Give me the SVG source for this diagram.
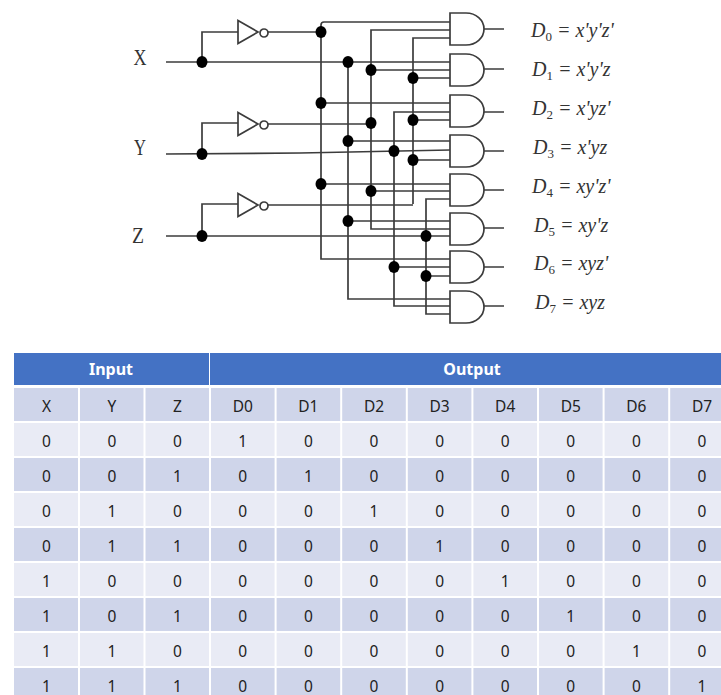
<svg xmlns="http://www.w3.org/2000/svg" width="721" height="695" viewBox="0 0 721 695">
<defs>
<style>
.w{fill:none;stroke:#3c3c3c;stroke-width:1.7}
.g{fill:#fff;stroke:#3c3c3c;stroke-width:1.7}
.d{fill:#000}
.lab{font-family:"Liberation Serif",serif;font-size:24px;fill:#333;text-anchor:middle}
.eq{font-family:"Liberation Serif",serif;font-style:italic;font-size:20px;fill:#333}
.eq tspan.s{font-size:13px;font-style:normal}
.hd{font-family:"Noto Sans",sans-serif;font-weight:700;font-size:16px;fill:#fff;text-anchor:middle}
.t{font-family:"Noto Sans",sans-serif;font-size:15.500px;fill:#222;text-anchor:middle}
.a{fill:#CFD5EA}.b{fill:#E9EBF5}.h{fill:#4472C4}
.v{stroke:#fff;stroke-width:2}
</style>
<path id="and" class="g" d="M0 0H16C26 0 34 7 34 16S26 32 16 32H0Z"/>
<ellipse id="dot" class="d" rx="5.500" ry="6"/>
<g id="inv"><path class="g" d="M0 -11.500L20 0L0 11.500Z"/><circle class="g" cx="26" cy="1" r="4"/></g>
</defs>
<rect width="721" height="695" fill="#fff"/>
<g id="connectors">
<path class="w" d="M166 62H450M166 154L300 153L450 150M166 236H450"/>
<path class="w" d="M202 62V32H238M202 154V123H238M202 236V204H238"/>
<path class="w" d="M268 32H321M268 124H371M268 205H413"/>
<path class="w" d="M450 22H324Q321 22 321 25V259H450"/>
<path class="w" d="M348 62V299H450"/>
<path class="w" d="M450 30H371V229H450"/>
<path class="w" d="M450 112H394V306H450"/>
<path class="w" d="M450 38H413V204"/>
<path class="w" d="M450 199H426V314H450"/>
<path class="w" d="M321 103H450M348 141H450M321 184H450M348 221H450"/>
<path class="w" d="M371 70H450M413 78H450M413 120H450M413 160H450M371 191H450M394 267H450M426 276H450"/>
<path class="w" d="M484 29H504M484 69H504M484 112H504M484 151H504M484 190H504M484 228H504M484 267H504M484 306H504"/>
</g>
<g id="junctions">
<use href="#dot" x="202" y="62"/><use href="#dot" x="202" y="154"/><use href="#dot" x="202" y="236"/>
<use href="#dot" x="321" y="32"/><use href="#dot" x="321" y="103"/><use href="#dot" x="321" y="184"/>
<use href="#dot" x="348" y="62"/><use href="#dot" x="348" y="141"/><use href="#dot" x="348" y="221"/>
<use href="#dot" x="371" y="70"/><use href="#dot" x="371" y="123"/><use href="#dot" x="371" y="191"/>
<use href="#dot" x="394" y="151"/><use href="#dot" x="394" y="267"/>
<use href="#dot" x="413" y="78"/><use href="#dot" x="413" y="120"/><use href="#dot" x="413" y="160"/>
<use href="#dot" x="426" y="236"/><use href="#dot" x="426" y="276"/>
</g>
<g id="inv-x"><use href="#inv" x="238" y="32"/></g>
<g id="inv-y"><use href="#inv" x="238" y="124"/></g>
<g id="inv-z"><use href="#inv" x="238" y="205"/></g>
<g id="and0"><use href="#and" x="450" y="13"/></g>
<g id="and1"><use href="#and" x="450" y="54"/></g>
<g id="and2"><use href="#and" x="450" y="95"/></g>
<g id="and3"><use href="#and" x="450" y="135"/></g>
<g id="and4"><use href="#and" x="450" y="174"/></g>
<g id="and5"><use href="#and" x="450" y="213"/></g>
<g id="and6"><use href="#and" x="450" y="251"/></g>
<g id="and7"><use href="#and" x="450" y="291"/></g>
<g id="labels">
<text class="lab" x="140" y="65" textLength="13" lengthAdjust="spacingAndGlyphs">X</text>
<text class="lab" x="140" y="155" textLength="12" lengthAdjust="spacingAndGlyphs">Y</text>
<text class="lab" x="138" y="243" textLength="12" lengthAdjust="spacingAndGlyphs">Z</text>
<text class="eq" x="531" y="37">D<tspan class="s" dy="4">0</tspan><tspan dy="-4"> = x'y'z'</tspan></text>
<text class="eq" x="532" y="76">D<tspan class="s" dy="4">1</tspan><tspan dy="-4"> = x'y'z</tspan></text>
<text class="eq" x="532" y="115">D<tspan class="s" dy="4">2</tspan><tspan dy="-4"> = x'yz'</tspan></text>
<text class="eq" x="533" y="154">D<tspan class="s" dy="4">3</tspan><tspan dy="-4"> = x'yz</tspan></text>
<text class="eq" x="532" y="193">D<tspan class="s" dy="4">4</tspan><tspan dy="-4"> = xy'z'</tspan></text>
<text class="eq" x="534" y="232">D<tspan class="s" dy="4">5</tspan><tspan dy="-4"> = xy'z</tspan></text>
<text class="eq" x="534" y="270">D<tspan class="s" dy="4">6</tspan><tspan dy="-4"> = xyz'</tspan></text>
<text class="eq" x="535" y="309">D<tspan class="s" dy="4">7</tspan><tspan dy="-4"> = xyz</tspan></text>
</g>
<g id="table">
<rect class="h" x="14" y="353" width="195" height="32"/><rect class="h" x="210" y="353" width="511" height="32"/>
<text class="hd" x="111" y="375">Input</text><text class="hd" x="472" y="375">Output</text>
<rect class="a" x="14" y="388" width="707" height="33"/>
<rect class="b" x="14" y="423" width="707" height="33"/>
<rect class="a" x="14" y="458" width="707" height="33"/>
<rect class="b" x="14" y="493" width="707" height="33"/>
<rect class="a" x="14" y="528" width="707" height="33"/>
<rect class="b" x="14" y="563" width="707" height="33"/>
<rect class="a" x="14" y="598" width="707" height="33"/>
<rect class="b" x="14" y="633" width="707" height="33"/>
<rect class="a" x="14" y="668" width="707" height="27"/>
<path class="v" d="M79 388V695M144.500 388V695M210 388V695M275.600 388V695M341.200 388V695M406.800 388V695M472.400 388V695M538 388V695M603.600 388V695M669.200 388V695"/>
<g class="t">
<text x="46.500" y="411.500">X</text><text x="112" y="411.500">Y</text><text x="177.500" y="411.500">Z</text><text x="242.800" y="411.500">D0</text><text x="308.400" y="411.500">D1</text><text x="374" y="411.500">D2</text><text x="439.600" y="411.500">D3</text><text x="505.200" y="411.500">D4</text><text x="570.800" y="411.500">D5</text><text x="636.400" y="411.500">D6</text><text x="702" y="411.500">D7</text>
<text x="46.500" y="446.500">0</text><text x="112" y="446.500">0</text><text x="177.500" y="446.500">0</text><text x="242.800" y="446.500">1</text><text x="308.400" y="446.500">0</text><text x="374" y="446.500">0</text><text x="439.600" y="446.500">0</text><text x="505.200" y="446.500">0</text><text x="570.800" y="446.500">0</text><text x="636.400" y="446.500">0</text><text x="702" y="446.500">0</text>
<text x="46.500" y="481.500">0</text><text x="112" y="481.500">0</text><text x="177.500" y="481.500">1</text><text x="242.800" y="481.500">0</text><text x="308.400" y="481.500">1</text><text x="374" y="481.500">0</text><text x="439.600" y="481.500">0</text><text x="505.200" y="481.500">0</text><text x="570.800" y="481.500">0</text><text x="636.400" y="481.500">0</text><text x="702" y="481.500">0</text>
<text x="46.500" y="516.500">0</text><text x="112" y="516.500">1</text><text x="177.500" y="516.500">0</text><text x="242.800" y="516.500">0</text><text x="308.400" y="516.500">0</text><text x="374" y="516.500">1</text><text x="439.600" y="516.500">0</text><text x="505.200" y="516.500">0</text><text x="570.800" y="516.500">0</text><text x="636.400" y="516.500">0</text><text x="702" y="516.500">0</text>
<text x="46.500" y="551.500">0</text><text x="112" y="551.500">1</text><text x="177.500" y="551.500">1</text><text x="242.800" y="551.500">0</text><text x="308.400" y="551.500">0</text><text x="374" y="551.500">0</text><text x="439.600" y="551.500">1</text><text x="505.200" y="551.500">0</text><text x="570.800" y="551.500">0</text><text x="636.400" y="551.500">0</text><text x="702" y="551.500">0</text>
<text x="46.500" y="586.500">1</text><text x="112" y="586.500">0</text><text x="177.500" y="586.500">0</text><text x="242.800" y="586.500">0</text><text x="308.400" y="586.500">0</text><text x="374" y="586.500">0</text><text x="439.600" y="586.500">0</text><text x="505.200" y="586.500">1</text><text x="570.800" y="586.500">0</text><text x="636.400" y="586.500">0</text><text x="702" y="586.500">0</text>
<text x="46.500" y="621.500">1</text><text x="112" y="621.500">0</text><text x="177.500" y="621.500">1</text><text x="242.800" y="621.500">0</text><text x="308.400" y="621.500">0</text><text x="374" y="621.500">0</text><text x="439.600" y="621.500">0</text><text x="505.200" y="621.500">0</text><text x="570.800" y="621.500">1</text><text x="636.400" y="621.500">0</text><text x="702" y="621.500">0</text>
<text x="46.500" y="656.500">1</text><text x="112" y="656.500">1</text><text x="177.500" y="656.500">0</text><text x="242.800" y="656.500">0</text><text x="308.400" y="656.500">0</text><text x="374" y="656.500">0</text><text x="439.600" y="656.500">0</text><text x="505.200" y="656.500">0</text><text x="570.800" y="656.500">0</text><text x="636.400" y="656.500">1</text><text x="702" y="656.500">0</text>
<text x="46.500" y="691.500">1</text><text x="112" y="691.500">1</text><text x="177.500" y="691.500">1</text><text x="242.800" y="691.500">0</text><text x="308.400" y="691.500">0</text><text x="374" y="691.500">0</text><text x="439.600" y="691.500">0</text><text x="505.200" y="691.500">0</text><text x="570.800" y="691.500">0</text><text x="636.400" y="691.500">0</text><text x="702" y="691.500">1</text>
</g>
</g>
</svg>
